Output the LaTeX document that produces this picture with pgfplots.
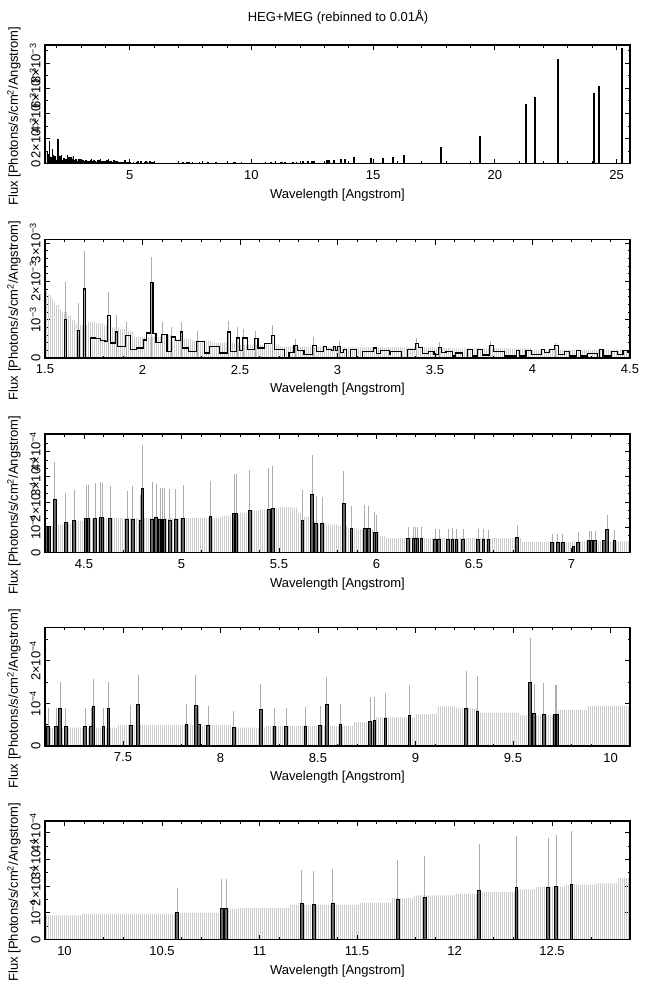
\documentclass[border=0pt]{standalone}
\usepackage{fontspec}
\setmainfont{Liberation Sans}
\usepackage{pgfplots}
\pgfplotsset{compat=1.18}
\usepackage{pgfplotstable}
\usetikzlibrary{patterns.meta}

% panel 2 (1.5-4.5 A): step histogram, left bin edge and flux
\pgfplotstableread[row sep=\\]{
x f\\
1.500 0\\ 1.598 1.00e-3\\ 1.611 0\\ 1.666 0.72e-3\\ 1.677 0\\ 1.697 1.80e-3\\ 1.709 0\\
1.735 0.52e-3\\ 1.757 0.50e-3\\ 1.783 0.45e-3\\ 1.808 0.43e-3\\ 1.820 1.11e-3\\ 1.834 0.39e-3\\
1.860 0.68e-3\\ 1.872 0.30e-3\\ 1.911 0.59e-3\\ 1.937 0.22e-3\\ 1.968 0.26e-3\\ 2.006 0.47e-3\\
2.019 0.65e-3\\ 2.040 1.97e-3\\ 2.054 0.63e-3\\ 2.069 0.40e-3\\ 2.096 0.61e-3\\ 2.126 0.17e-3\\
2.148 0.55e-3\\ 2.168 0.45e-3\\ 2.194 0.68e-3\\ 2.205 0.26e-3\\ 2.237 0.16e-3\\ 2.276 0.43e-3\\
2.318 0.13e-3\\ 2.345 0.30e-3\\ 2.395 0.13e-3\\ 2.434 0.68e-3\\ 2.451 0.16e-3\\ 2.482 0.52e-3\\
2.499 0.20e-3\\ 2.513 0.52e-3\\ 2.537 0.22e-3\\ 2.576 0.50e-3\\ 2.592 0.26e-3\\ 2.626 0.37e-3\\
2.662 0.59e-3\\ 2.677 0.22e-3\\ 2.729 0\\ 2.751 0.15e-3\\ 2.777 0.33e-3\\ 2.794 0.20e-3\\
2.828 0.10e-3\\ 2.871 0.33e-3\\ 2.892 0.17e-3\\ 2.928 0.30e-3\\ 2.945 0.22e-3\\ 2.969 0.19e-3\\
2.978 0.30e-3\\ 2.990 0.19e-3\\ 3.002 0.30e-3\\ 3.016 0.15e-3\\ 3.029 0.22e-3\\ 3.047 0\\
3.067 0.22e-3\\ 3.098 0\\ 3.127 0.17e-3\\ 3.184 0.26e-3\\ 3.198 0.12e-3\\ 3.222 0.20e-3\\
3.265 0.10e-3\\ 3.273 0.17e-3\\ 3.328 0\\ 3.359 0.22e-3\\ 3.402 0.37e-3\\ 3.417 0.28e-3\\
3.436 0.12e-3\\ 3.465 0.17e-3\\ 3.495 0.10e-3\\ 3.516 0.28e-3\\ 3.535 0.15e-3\\ 3.556 0.17e-3\\
3.590 0.05e-3\\ 3.607 0.13e-3\\ 3.642 0\\ 3.667 0.22e-3\\ 3.693 0.05e-3\\ 3.719 0.22e-3\\
3.744 0.08e-3\\ 3.779 0.32e-3\\ 3.799 0.17e-3\\ 3.856 0.05e-3\\ 3.916 0.20e-3\\ 3.933 0.05e-3\\
3.967 0.20e-3\\ 3.993 0.10e-3\\ 4.045 0.22e-3\\ 4.062 0.15e-3\\ 4.087 0.22e-3\\ 4.113 0.32e-3\\
4.134 0.10e-3\\ 4.165 0.17e-3\\ 4.190 0.05e-3\\ 4.224 0.20e-3\\ 4.246 0.05e-3\\ 4.284 0.12e-3\\
4.335 0\\ 4.344 0.22e-3\\ 4.361 0.05e-3\\ 4.404 0.17e-3\\ 4.435 0.10e-3\\ 4.464 0.20e-3\\
4.490 0.15e-3\\ 4.500 0.15e-3\\
}\fluxtwo

\pgfplotstableread[row sep=\\]{
x e\\
1.604 1.97e-3\\ 1.671 1.43e-3\\ 1.703 2.80e-3\\ 1.826 1.72e-3\\ 1.866 1.13e-3\\ 1.916 0.95e-3\\
2.044 2.63e-3\\ 2.100 0.93e-3\\ 2.150 0.80e-3\\ 2.198 0.95e-3\\ 2.280 0.70e-3\\ 2.438 0.96e-3\\
2.486 0.80e-3\\ 2.518 0.75e-3\\ 2.580 0.70e-3\\ 2.666 0.85e-3\\ 2.782 0.50e-3\\ 2.876 0.55e-3\\
3.008 0.45e-3\\ 3.406 0.52e-3\\ 3.520 0.43e-3\\ 3.783 0.45e-3\\ 4.117 0.40e-3\\
}\errtwo

\pgfplotstableread[row sep=\\]{
x e\\
1.500 1.75e-3\\ 1.515 1.65e-3\\ 1.530 1.55e-3\\ 1.545 1.45e-3\\ 1.560 1.38e-3\\ 1.575 1.28e-3\\
1.590 1.20e-3\\ 1.615 1.10e-3\\ 1.635 1.00e-3\\ 1.655 0.90e-3\\ 1.680 0.85e-3\\ 1.720 0.95e-3\\
1.760 0.90e-3\\ 1.800 0.85e-3\\ 1.840 0.80e-3\\ 1.880 0.75e-3\\ 1.910 0.70e-3\\ 1.950 0.55e-3\\
2.100 0.60e-3\\ 2.150 0.50e-3\\ 2.250 0.45e-3\\ 2.350 0.40e-3\\ 2.500 0.35e-3\\ 2.700 0.30e-3\\
3.000 0.28e-3\\ 3.500 0.25e-3\\ 4.000 0.22e-3\\ 4.500 0.22e-3\\
}\envtwo

% panel 3 (4.3-7.3 A): bin, flux, top of error bar
\pgfplotstableread[row sep=\\]{
x f e\\
4.310 1.03e-4 1.03e-4\\ 4.320 1.03e-4 1.03e-4\\ 4.350 2.12e-4 3.58e-4\\ 4.407 1.19e-4 2.35e-4\\
4.450 1.27e-4 2.49e-4\\ 4.510 1.36e-4 2.69e-4\\ 4.520 1.36e-4 2.69e-4\\ 4.558 1.36e-4 2.75e-4\\
4.585 1.40e-4 2.78e-4\\ 4.595 1.40e-4 2.74e-4\\ 4.634 1.35e-4 2.65e-4\\ 4.720 1.30e-4 2.45e-4\\
4.750 1.32e-4 2.62e-4\\ 4.790 1.27e-4 2.30e-4\\ 4.800 2.53e-4 4.27e-4\\ 4.850 1.30e-4 2.80e-4\\
4.870 1.39e-4 2.72e-4\\ 4.890 1.32e-4 2.55e-4\\ 4.900 1.32e-4 2.55e-4\\ 4.910 1.32e-4 2.55e-4\\
4.940 1.27e-4 2.50e-4\\ 4.970 1.30e-4 2.52e-4\\ 5.008 1.34e-4 2.66e-4\\ 5.149 1.43e-4 2.84e-4\\
5.270 1.56e-4 3.12e-4\\ 5.280 1.56e-4 3.12e-4\\ 5.350 1.67e-4 3.28e-4\\ 5.448 1.69e-4 3.35e-4\\
5.468 1.73e-4 3.44e-4\\ 5.620 1.27e-4 2.49e-4\\ 5.670 2.29e-4 3.88e-4\\ 5.690 1.14e-4 2.25e-4\\
5.720 1.14e-4 2.20e-4\\ 5.832 1.93e-4 3.25e-4\\ 5.872 0.94e-4 1.85e-4\\ 5.940 0.97e-4 1.88e-4\\
5.960 0.97e-4 1.85e-4\\ 5.990 0.80e-4 1.59e-4\\ 6.000 0.78e-4 1.50e-4\\ 6.163 0.54e-4 1.03e-4\\
6.190 0.54e-4 1.03e-4\\ 6.200 0.54e-4 1.03e-4\\ 6.210 0.54e-4 1.03e-4\\ 6.230 0.54e-4 1.03e-4\\
6.300 0.50e-4 0.94e-4\\ 6.320 0.50e-4 0.94e-4\\ 6.368 0.50e-4 0.94e-4\\ 6.390 0.50e-4 0.96e-4\\
6.410 0.50e-4 0.94e-4\\ 6.445 0.50e-4 0.94e-4\\ 6.520 0.53e-4 0.94e-4\\ 6.548 0.53e-4 0.94e-4\\
6.574 0.50e-4 0.90e-4\\ 6.720 0.61e-4 1.10e-4\\ 6.900 0.40e-4 0.75e-4\\ 6.930 0.40e-4 0.75e-4\\
6.955 0.40e-4 0.75e-4\\ 7.010 0.24e-4 0.24e-4\\ 7.033 0.41e-4 0.82e-4\\ 7.090 0.46e-4 0.85e-4\\
7.100 0.46e-4 0.85e-4\\ 7.120 0.46e-4 0.85e-4\\ 7.166 0.46e-4 0.46e-4\\ 7.183 0.90e-4 1.50e-4\\
7.220 0.46e-4 0.90e-4\\
}\barsthree

\pgfplotstableread[row sep=\\]{
x e\\
4.30 1.05e-4\\ 4.36 1.10e-4\\ 4.40 1.15e-4\\ 4.45 1.25e-4\\ 4.50 1.33e-4\\ 4.60 1.36e-4\\
5.10 1.38e-4\\ 5.20 1.45e-4\\ 5.25 1.50e-4\\ 5.30 1.58e-4\\ 5.35 1.65e-4\\ 5.40 1.70e-4\\
5.45 1.75e-4\\ 5.50 1.80e-4\\ 5.55 1.78e-4\\ 5.60 1.55e-4\\ 5.63 1.40e-4\\ 5.66 1.25e-4\\
5.70 1.15e-4\\ 5.75 1.12e-4\\ 5.80 1.05e-4\\ 5.85 0.97e-4\\ 5.90 0.92e-4\\ 5.95 0.90e-4\\
6.00 0.80e-4\\ 6.02 0.65e-4\\ 6.05 0.57e-4\\ 6.74 0.42e-4\\ 7.00 0.44e-4\\ 7.30 0.44e-4\\
}\envthree

% panel 4 (7.1-10.1 A)
\pgfplotstableread[row sep=\\]{
x f e\\
7.115 0.45e-4 0.88e-4\\ 7.157 0.45e-4 0.88e-4\\ 7.178 0.89e-4 1.50e-4\\ 7.206 0.45e-4 0.88e-4\\
7.305 0.45e-4 0.88e-4\\ 7.337 0.45e-4 0.88e-4\\ 7.348 0.93e-4 1.57e-4\\ 7.400 0.45e-4 0.88e-4\\
7.426 0.89e-4 1.50e-4\\ 7.539 0.49e-4 0.96e-4\\ 7.577 0.98e-4 1.67e-4\\ 7.825 0.50e-4 0.98e-4\\
7.873 0.96e-4 1.66e-4\\ 7.888 0.50e-4 0.95e-4\\ 7.937 0.49e-4 0.94e-4\\ 8.068 0.43e-4 0.82e-4\\
8.206 0.86e-4 1.45e-4\\ 8.276 0.45e-4 0.90e-4\\ 8.337 0.45e-4 0.90e-4\\ 8.435 0.47e-4 0.92e-4\\
8.510 0.48e-4 0.94e-4\\ 8.545 0.97e-4 1.63e-4\\ 8.615 0.50e-4 0.98e-4\\ 8.767 0.57e-4 1.14e-4\\
8.789 0.59e-4 1.16e-4\\ 8.846 0.64e-4 1.25e-4\\ 8.969 0.72e-4 1.43e-4\\ 9.259 0.88e-4 1.76e-4\\
9.318 0.82e-4 1.65e-4\\ 9.587 1.49e-4 2.53e-4\\ 9.608 0.76e-4 1.45e-4\\ 9.657 0.75e-4 1.47e-4\\
9.715 0.75e-4 1.43e-4\\ 9.725 0.75e-4 1.43e-4\\
}\barsfour

\pgfplotstableread[row sep=\\]{
x e\\
7.10 0.43e-4\\ 7.47 0.49e-4\\ 8.06 0.43e-4\\ 8.23 0.47e-4\\ 8.68 0.56e-4\\ 8.79 0.67e-4\\
9.00 0.75e-4\\ 9.11 0.93e-4\\ 9.21 0.88e-4\\ 9.32 0.78e-4\\ 9.53 0.72e-4\\ 9.73 0.85e-4\\
9.88 0.94e-4\\ 10.10 0.94e-4\\
}\envfour

% panel 5 (9.9-12.9 A)
\pgfplotstableread[row sep=\\]{
x f e\\
10.577 1.00e-4 1.93e-4\\ 10.807 1.15e-4 2.28e-4\\ 10.828 1.15e-4 2.28e-4\\ 11.217 1.34e-4 2.62e-4\\
11.278 1.30e-4 2.56e-4\\ 11.376 1.34e-4 2.65e-4\\ 11.709 1.49e-4 2.97e-4\\ 11.847 1.59e-4 3.13e-4\\
12.127 1.82e-4 3.57e-4\\ 12.318 1.94e-4 3.87e-4\\ 12.480 1.94e-4 3.82e-4\\ 12.522 1.97e-4 3.91e-4\\
12.600 2.06e-4 4.06e-4\\
}\barsfive

\pgfplotstableread[row sep=\\]{
x e\\
9.90 0.90e-4\\ 10.09 0.97e-4\\ 10.58 1.00e-4\\ 10.81 1.15e-4\\ 10.89 1.19e-4\\ 11.15 1.30e-4\\
11.51 1.38e-4\\ 11.68 1.55e-4\\ 11.79 1.65e-4\\ 12.00 1.72e-4\\ 12.12 1.78e-4\\ 12.31 1.88e-4\\
12.42 1.97e-4\\ 12.57 2.06e-4\\ 12.72 2.10e-4\\ 12.84 2.30e-4\\ 12.90 2.30e-4\\
}\envfive

% long-wavelength lines, only in the overview panel
\pgfplotstableread[row sep=\\]{
x f\\
13.10 0.25e-3\\ 13.20 0.25e-3\\ 13.40 0.27e-3\\ 13.69 0.32e-3\\ 13.84 0.32e-3\\ 14.22 0.48e-3\\
14.92 0.40e-3\\ 15.41 0.45e-3\\ 15.82 0.53e-3\\ 16.26 0.67e-3\\ 17.775 1.28e-3\\ 17.79 1.28e-3\\
19.38 2.21e-3\\ 21.27 4.72e-3\\ 21.63 5.28e-3\\ 22.60 8.32e-3\\ 24.06 5.60e-3\\ 24.27 6.19e-3\\
25.23 9.20e-3\\
}\barsone

\pgfplotsset{
  spec/.style={
    width=585bp, height=118.5bp, scale only axis,
    anchor=south west, ymin=0,
    axis line style={line width=1.1bp},
    tick align=inside,
    major tick length=5bp, minor tick length=2.5bp,
    every tick/.style={black, line width=0.9bp},
    xlabel={Wavelength [Angstrom]},
    ylabel={Flux [Photons/s/cm\textsuperscript{2}/Angstrom]},
    xlabel style={at={(axis description cs:0.5,-0.266)}, anchor=center},
    ylabel style={at={(axis description cs:-0.053,0.4)}, anchor=center},
    xticklabel style={yshift=-2.5bp},
    yticklabel style={rotate=90, anchor=south},
    scaled y ticks=false,
    /pgf/number format/assume math mode=true,
  },
  env/.style={const plot, draw=none, pattern={Lines[angle=90,distance=2bp,line width=0.9bp]}, pattern color=black!20},
  errs/.style={ycomb, black!32, line width=0.8bp},
  bins/.style={ybar, bar width=0.014, bar shift=0pt, fill=black!60, draw=black, line width=0.9bp},
  base/.style={black, line width=1.6bp},
}

\begin{document}
\fontsize{13bp}{15.6bp}\selectfont
\begin{tikzpicture}
\useasboundingbox (0,0) rectangle (648bp,-991bp);
\node at (338bp,-17bp) {HEG+MEG (rebinned to 0.01Å)};

\begin{axis}[spec, at={(45bp,-163.5bp)}, xmin=1.52, xmax=25.55, ymax=9.47e-3,
  xtick={5,10,15,20,25}, minor xtick={2,3,...,25},
  ytick={0,0.002,0.004,0.006,0.008}, minor ytick={0.001,0.003,0.005,0.007,0.009},
  yticklabels={0,2×10\textsuperscript{−3},4×10\textsuperscript{−3},6×10\textsuperscript{−3},8×10\textsuperscript{−3}}]
\addplot[const plot, fill=black, draw=black, line width=0.5bp] table[x=x,y=f]{\fluxtwo} \closedcycle;
\addplot[ycomb, black, line width=1.5bp] table[x=x,y=f]{\barsthree};
\addplot[ycomb, black, line width=1.5bp] table[x=x,y=f]{\barsfour};
\addplot[ycomb, black, line width=1.5bp] table[x=x,y=f]{\barsfive};
\addplot[ycomb, black, line width=2bp] table[x=x,y=f]{\barsone};
\addplot[base] coordinates {(1.52,0) (25.55,0)};
\end{axis}

\begin{axis}[spec, at={(45bp,-358bp)}, xmin=1.5, xmax=4.5, ymax=3.09e-3,
  xtick={1.5,2,...,4.5}, minor xtick={1.5,1.6,...,4.5},
  ytick={0,0.001,0.002,0.003}, minor ytick={0.0002,0.0004,...,0.003},
  yticklabels={0,10\textsuperscript{−3},2×10\textsuperscript{−3},3×10\textsuperscript{−3}}]
\addplot[env] table[x=x,y=e]{\envtwo} \closedcycle;
\addplot[errs] table[x=x,y=e]{\errtwo};
\addplot[const plot, black, line width=1.2bp] table[x=x,y=f]{\fluxtwo};
\addplot[base] coordinates {(1.5,0) (4.5,0)};
\end{axis}

\begin{axis}[spec, at={(45bp,-552.5bp)}, xmin=4.3, xmax=7.3, ymax=4.7e-4,
  xtick={4.5,5,...,7}, minor xtick={4.3,4.4,...,7.3},
  ytick={0,1e-4,2e-4,3e-4,4e-4}, minor ytick={0.333e-4,0.667e-4,1.333e-4,1.667e-4,2.333e-4,2.667e-4,3.333e-4,3.667e-4,4.333e-4,4.667e-4},
  yticklabels={0,10\textsuperscript{−4},2×10\textsuperscript{−4},3×10\textsuperscript{−4},4×10\textsuperscript{−4}}]
\addplot[env] table[x=x,y=e]{\envthree} \closedcycle;
\addplot[errs] table[x=x,y=e]{\barsthree};
\addplot[bins] table[x=x,y=f]{\barsthree};
\addplot[base] coordinates {(4.3,0) (7.3,0)};
\end{axis}

\begin{axis}[spec, at={(45bp,-746bp)}, xmin=7.1, xmax=10.1, ymax=2.78e-4,
  xtick={7.5,8,...,10}, minor xtick={7.1,7.2,...,10.1},
  ytick={0,1e-4,2e-4}, minor ytick={0.5e-4,1.5e-4,2.5e-4},
  yticklabels={0,10\textsuperscript{−4},2×10\textsuperscript{−4}}]
\addplot[env] table[x=x,y=e]{\envfour} \closedcycle;
\addplot[errs] table[x=x,y=e]{\barsfour};
\addplot[bins] table[x=x,y=f]{\barsfour};
\addplot[base] coordinates {(7.1,0) (10.1,0)};
\end{axis}

\begin{axis}[spec, at={(45bp,-939.5bp)}, xmin=9.9, xmax=12.9, ymax=4.44e-4,
  xtick={10,10.5,...,12.5}, minor xtick={9.9,10,...,12.9},
  ytick={0,1e-4,2e-4,3e-4,4e-4}, minor ytick={0.5e-4,1.5e-4,2.5e-4,3.5e-4},
  yticklabels={0,10\textsuperscript{−4},2×10\textsuperscript{−4},3×10\textsuperscript{−4},4×10\textsuperscript{−4}}]
\addplot[env] table[x=x,y=e]{\envfive} \closedcycle;
\addplot[errs] table[x=x,y=e]{\barsfive};
\addplot[bins] table[x=x,y=f]{\barsfive};
\addplot[base] coordinates {(9.9,0) (12.9,0)};
\end{axis}
\end{tikzpicture}
\end{document}
